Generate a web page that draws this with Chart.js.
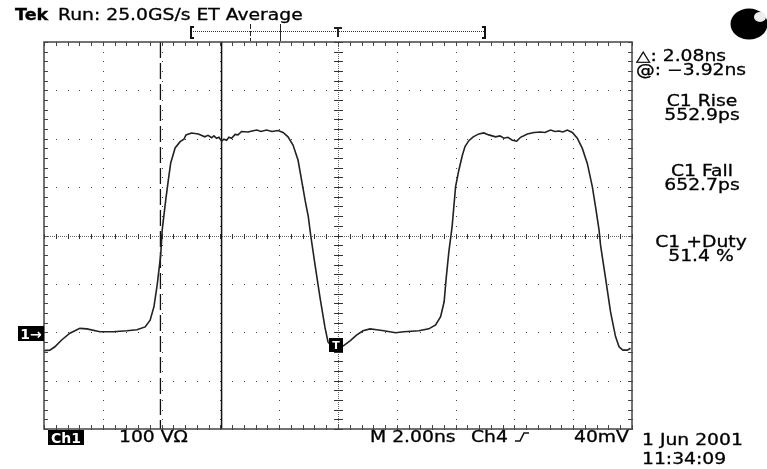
<!DOCTYPE html>
<html>
<head>
<meta charset="utf-8">
<title>Tek scope capture</title>
<script src="https://cdn.jsdelivr.net/npm/chart.js@4"></script>
<style>
  html, body { margin: 0; padding: 0; background: #fff; }
  canvas { display: block; filter: blur(0.3px); }
</style>
</head>
<body>
<canvas id="scope" width="767" height="469"></canvas>
<script>
// trace, time in ns from the left edge, level in mV above the Ch1 ground
const timeNs = [0, .2, .37, .6, .88, 1.22, 1.46, 1.9, 2.35, 2.82, 3.16, 3.44, 3.61, 3.74, 3.85, 3.97, 4.02, 4.14, 4.23, 4.31, 4.46, 4.63, 4.76, 4.83, 5.02, 5.25, 5.47, 5.58, 5.7, 5.78, 5.87, 5.95, 6.04, 6.12, 6.21, 6.29, 6.38, 6.5, 6.6, 6.72, 6.94, 7.08, 7.24, 7.38, 7.57, 7.75, 7.96, 8.13, 8.3, 8.47, 8.64, 8.76, 8.88, 8.99, 9.07, 9.22, 9.39, 9.56, 9.66, 9.8, 9.93, 10.18, 10.41, 10.63, 10.85, 11.09, 11.32, 11.56, 11.96, 12.24, 12.75, 13.09, 13.32, 13.49, 13.61, 13.68, 13.77, 13.88, 14, 14.11, 14.23, 14.32, 14.45, 14.6, 14.79, 14.96, 15.13, 15.36, 15.51, 15.64, 15.78, 15.93, 16.08, 16.21, 16.44, 16.67, 16.89, 17.04, 17.23, 17.38, 17.52, 17.65, 17.8, 17.97, 18.14, 18.31, 18.48, 18.65, 18.76, 18.88, 18.93, 19.1, 19.27, 19.44, 19.56, 19.69, 19.84, 19.95]
const levelMv = [-38, -37, -30, -16, -2, 8, 7, 1, 1, 3, 5, 11, 25, 53, 98, 160, 211, 273, 315, 350, 381, 394, 399, 408, 412, 410, 404, 407, 402, 406, 401, 403, 395, 399, 397, 403, 401, 409, 408, 415, 414, 416, 418, 415, 418, 415, 417, 413, 404, 387, 356, 315, 273, 239, 201, 139, 71, 9, -20, -30, -35, -28, -18, -6, 3, 7, 5, 3, -1, 1, 3, 7, 15, 32, 63, 112, 166, 218, 301, 335, 366, 384, 396, 404, 410, 412, 408, 404, 406, 401, 403, 397, 395, 403, 410, 413, 414, 413, 418, 415, 416, 414, 418, 413, 401, 380, 349, 301, 259, 211, 180, 112, 42, -9, -30, -37, -37, -33]

const timeTicks = [0, 2, 4, 6, 8, 10, 12, 14, 16, 18, 20]
const levelTicks = [-200, -100, 0, 100, 200, 300, 400, 500, 600]
const cursorDashed = 3.96
const cursorSolid = 6.04
const recordStart = 5
const recordEnd = 15
const recordMarks = [7, 8.03]
const triggerTime = 10
const centerTime = 10
const centerLevel = 200

const normal = '15px "DejaVu Sans"'
const textos = [
    { t: 'Tek', x: 15, y: 20, f: 'bold 15px "DejaVu Sans"', s: 1.17 },
    { t: 'Run: 25.0GS/s ET Average', x: 58, y: 20, f: normal },
    { t: '\u25B3: 2.08ns', x: 636, y: 60.5, f: normal },
    { t: '@: \u22123.92ns', x: 636, y: 75, f: normal },
    { t: 'C1 Rise', x: 702, y: 105.5, f: normal, a: 'center' },
    { t: '552.9ps', x: 702, y: 119.5, f: normal, a: 'center' },
    { t: 'C1 Fall', x: 702, y: 175.5, f: normal, a: 'center' },
    { t: '652.7ps', x: 702, y: 190, f: normal, a: 'center' },
    { t: 'C1 +Duty', x: 701, y: 246.5, f: normal, a: 'center' },
    { t: '51.4 %', x: 701, y: 261, f: normal, a: 'center' },
    { t: '100 V\u03A9', x: 119, y: 442, f: normal },
    { t: 'M 2.00ns', x: 370, y: 442, f: normal },
    { t: 'Ch4', x: 471, y: 442, f: normal },
    { t: '40mV', x: 574, y: 442, f: normal },
    { t: '1 Jun 2001', x: 642, y: 445, f: normal },
    { t: '11:34:09', x: 642, y: 464, f: normal }
]

const badges = [
    { t: '1\u2192', x: 18, y: 326, w: 26, h: 15 },
    { t: 'Ch1', x: 48, y: 430, w: 36, h: 15 }
]

// dotted graticule, small ticks on the border, crosshair through the middle
const graticule = {
    id: 'graticule',
    beforeDatasetsDraw(chart) {
        const { ctx, chartArea: area, scales: { x, y } } = chart
        const stepX = 0.4
        const stepY = 20
        ctx.save()
        ctx.fillStyle = '#444'
        levelTicks.forEach(level => {
            const py = Math.round(y.getPixelForValue(level))
            for (let t = 0; t <= 20.001; t += stepX) {
                ctx.fillRect(Math.round(x.getPixelForValue(t)), py, 1, 1)
            }
        })
        timeTicks.forEach(time => {
            const px = Math.round(x.getPixelForValue(time))
            for (let l = -200; l <= 600.001; l += stepY) {
                ctx.fillRect(px, Math.round(y.getPixelForValue(l)), 1, 1)
            }
        })
        // border ticks
        for (let t = 0; t <= 20.001; t += stepX) {
            const px = Math.round(x.getPixelForValue(t))
            ctx.fillRect(px, area.top, 1, 4)
            ctx.fillRect(px, area.bottom - 4, 1, 4)
        }
        for (let l = -200; l <= 600.001; l += stepY) {
            const py = Math.round(y.getPixelForValue(l))
            ctx.fillRect(area.left, py, 4, 1)
            ctx.fillRect(area.right - 4, py, 4, 1)
        }
        // crosshair
        const cx = Math.round(x.getPixelForValue(centerTime))
        const cy = Math.round(y.getPixelForValue(centerLevel))
        ctx.fillStyle = '#666'
        for (let px = area.left; px <= area.right; px += 2) ctx.fillRect(px, cy, 1, 1)
        for (let py = area.top; py <= area.bottom; py += 2) ctx.fillRect(cx, py, 1, 1)
        ctx.fillStyle = '#333'
        for (let t = 0; t <= 20.001; t += stepX) {
            ctx.fillRect(Math.round(x.getPixelForValue(t)), cy - 2, 1, 5)
        }
        for (let l = -200; l <= 600.001; l += stepY) {
            ctx.fillRect(cx - 4, Math.round(y.getPixelForValue(l)), 9, 1)
        }
        ctx.restore()
    },
    afterDatasetsDraw(chart) {
        const { ctx, chartArea: area, scales: { x, y } } = chart
        ctx.save()
        ctx.strokeStyle = '#444'
        ctx.lineWidth = 1.5
        ctx.strokeRect(area.left, area.top, area.right - area.left, area.bottom - area.top)

        // record view bar above the screen
        const barY = 31.5
        const left = x.getPixelForValue(recordStart)
        const right = x.getPixelForValue(recordEnd)
        ctx.strokeStyle = '#333'
        ctx.lineWidth = 1
        ctx.setLineDash([1, 1])
        ctx.beginPath()
        ctx.moveTo(left, barY)
        ctx.lineTo(right, barY)
        ctx.stroke()
        ctx.setLineDash([])
        ctx.lineWidth = 2
        ctx.strokeStyle = '#111'
        ctx.beginPath()
        ctx.moveTo(left + 3, 27)
        ctx.lineTo(left, 27)
        ctx.lineTo(left, 38)
        ctx.lineTo(left + 3, 38)
        ctx.moveTo(right - 3, 27)
        ctx.lineTo(right, 27)
        ctx.lineTo(right, 38)
        ctx.lineTo(right - 3, 38)
        ctx.stroke()
        ctx.lineWidth = 1
        ctx.strokeStyle = '#222'
        recordMarks.forEach((mark, i) => {
            const px = Math.round(x.getPixelForValue(mark)) + 0.5
            ctx.setLineDash(i === 0 ? [5, 2] : [])
            ctx.beginPath()
            ctx.moveTo(px, 24)
            ctx.lineTo(px, 41)
            ctx.stroke()
        })
        ctx.setLineDash([])
        const trigX = x.getPixelForValue(triggerTime)
        ctx.lineWidth = 2
        ctx.beginPath()
        ctx.moveTo(trigX - 4, 28)
        ctx.lineTo(trigX + 4, 28)
        ctx.moveTo(trigX, 28)
        ctx.lineTo(trigX, 37)
        ctx.stroke()

        // trigger flag sitting on the trace
        ctx.fillStyle = '#000'
        ctx.fillRect(trigX - 9, 338, 14, 14)
        ctx.fillStyle = '#fff'
        ctx.font = 'bold 11px "DejaVu Sans"'
        ctx.textAlign = 'center'
        ctx.fillText('T', trigX - 2, 349)

        badges.forEach(b => {
            ctx.fillStyle = '#000'
            ctx.fillRect(b.x, b.y, b.w, b.h)
            ctx.fillStyle = '#fff'
            ctx.font = 'bold 14px "DejaVu Sans"'
            ctx.textAlign = 'center'
            ctx.fillText(b.t, b.x + b.w / 2, b.y + 12.5)
        })

        // the scope font runs wide, so stretch it sideways and thicken it a little
        ctx.fillStyle = '#000'
        ctx.strokeStyle = '#000'
        ctx.lineWidth = 0.3
        textos.forEach(item => {
            ctx.save()
            ctx.translate(item.x, item.y)
            ctx.scale(item.s || 1.25, 1)
            ctx.font = item.f
            ctx.textAlign = item.a || 'left'
            ctx.fillText(item.t, 0, 0)
            ctx.strokeText(item.t, 0, 0)
            ctx.restore()
        })

        // Ch4 rising edge symbol
        ctx.strokeStyle = '#111'
        ctx.lineWidth = 1.6
        ctx.beginPath()
        ctx.moveTo(515, 441)
        ctx.lineTo(520, 441)
        ctx.lineTo(524, 433)
        ctx.lineTo(529, 433)
        ctx.stroke()

        // busy ball in the corner
        ctx.fillStyle = '#000'
        ctx.beginPath()
        ctx.ellipse(749, 24, 18.5, 15.5, 0, 0, Math.PI * 2)
        ctx.fill()
        ctx.fillStyle = '#eee'
        ctx.beginPath()
        ctx.ellipse(760, 17, 6, 5, 0, 0, Math.PI * 2)
        ctx.fill()
        ctx.restore()
    }
}

const ctx = document.getElementById('scope').getContext('2d')
const myChart = new Chart(ctx, {
    type: 'scatter',
    data: {
        datasets: [{
            label: 'Ch1',
            data: timeNs.map((t, i) => ({ x: t, y: levelMv[i] })),
            showLine: true,
            borderColor: '#222',
            borderWidth: 1.6,
            pointRadius: 0,
            tension: 0
        }, {
            label: 'Cursor 1',
            data: [{ x: cursorDashed, y: 600 }, { x: cursorDashed, y: -200 }],
            showLine: true,
            borderColor: '#111',
            borderWidth: 1.3,
            borderDash: [16, 5],
            pointRadius: 0
        }, {
            label: 'Cursor 2',
            data: [{ x: cursorSolid, y: 600 }, { x: cursorSolid, y: -200 }],
            showLine: true,
            borderColor: '#111',
            borderWidth: 1.5,
            pointRadius: 0
        }]
    },
    plugins: [graticule],
    options: {
        responsive: false,
        animation: false,
        layout: { padding: { left: 44, right: 135, top: 42, bottom: 40 } },
        plugins: { legend: { display: false }, tooltip: { enabled: false } },
        scales: {
            x: { type: 'linear', min: 0, max: 20, display: false },
            y: { type: 'linear', min: -200, max: 600, display: false }
        }
    }
})
</script>
</body>
</html>
